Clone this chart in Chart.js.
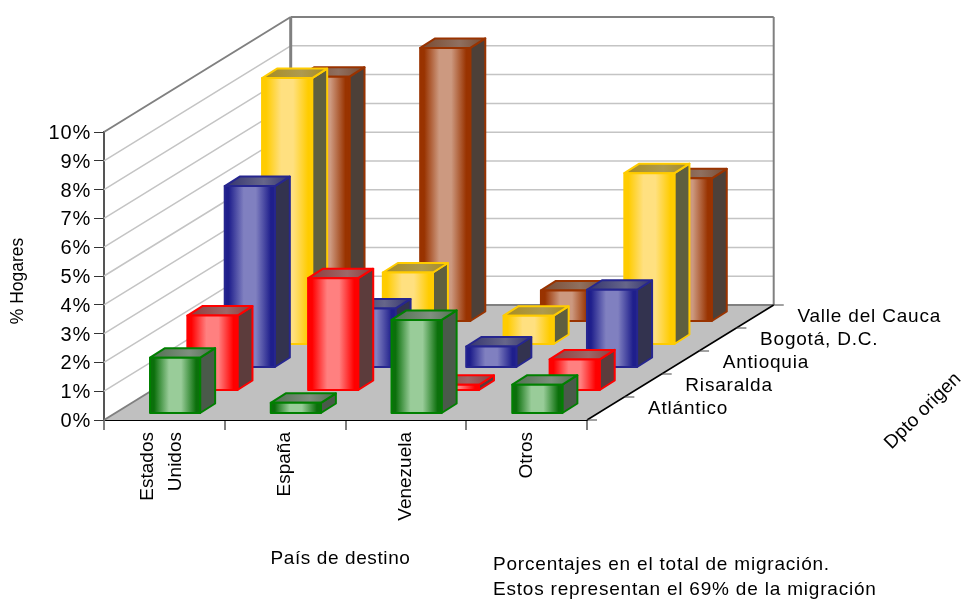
<!DOCTYPE html>
<html>
<head>
<meta charset="utf-8">
<script src="https://cdn.jsdelivr.net/npm/chart.js@4"></script>
<style>
body { margin: 0; background: #fff; }
#chartContainer { position: relative; width: 963px; height: 599px; }
</style>
</head>
<body>
<div id="chartContainer"><canvas id="chartCanvas"></canvas></div>
<script>
const paises = [["Estados", "Unidos"], "España", "Venezuela", "Otros"];
const tickLabels = ["0%", "1%", "2%", "3%", "4%", "5%", "6%", "7%", "8%", "9%", "10%"];
const departamentos = ["Atlántico", "Risaralda", "Antioquia", "Bogotá, D.C.", "Valle del Cauca"];
const atlantico = [1.94, 0.37, 3.25, 1.0];
const risaralda = [2.6, 3.9, 0.2, 1.08];
const antioquia = [6.3, 2.05, 0.73, 2.7];
const bogota = [9.25, 2.5, 1.0, 5.95];
const valle = [8.5, 9.5, 1.08, 4.97];
const notas = ["Porcentajes en el total de migración.", "Estos representan el 69% de la migración"];

// edge, centre, border, side, top-dark, top-light
const colores = [
    ["#0b700b", "#99cc99", "#008000", "#4a5a4a", "#4f6f4f", "#7f8f7f"],
    ["#ff0000", "#ff8080", "#ff0000", "#5c3c3c", "#8f3a3a", "#9c6868"],
    ["#1f1f8c", "#8080c0", "#26268f", "#33334f", "#33336f", "#66668a"],
    ["#ffcc00", "#ffe080", "#ffcc00", "#5f5f3f", "#a88c20", "#ad9a50"],
    ["#993300", "#cc9980", "#993300", "#4d4038", "#7a4a30", "#8f7060"]
];

// floor depth in px
const depthX = 186.7, depthY = -115;
const rowX = 37.35, rowY = -23;
const frontX = 10.7, frontY = -6.5;
const barDepthX = 15, barDepthY = -9.5;

function offsetFor(i) {
    return { x: frontX + rowX * i, y: frontY + rowY * i };
}

function frontGradient(c) {
    const col = colores[c.datasetIndex];
    if (c.dataIndex === undefined) return col[1];
    const x = c.chart.scales.x.getPixelForValue(c.dataIndex);
    if (!Number.isFinite(x)) return col[1]; // scale not laid out yet
    const g = c.chart.ctx.createLinearGradient(x - 25, 0, x + 25, 0);
    g.addColorStop(0.08, col[0]);
    g.addColorStop(0.38, col[1]);
    g.addColorStop(0.62, col[1]);
    g.addColorStop(0.92, col[0]);
    return g;
}

function line(ctx, x1, y1, x2, y2) {
    ctx.beginPath();
    ctx.moveTo(x1, y1);
    ctx.lineTo(x2, y2);
    ctx.stroke();
}

function poly(ctx, pts) {
    ctx.beginPath();
    ctx.moveTo(pts[0][0], pts[0][1]);
    for (let i = 1; i < pts.length; i++) ctx.lineTo(pts[i][0], pts[i][1]);
    ctx.closePath();
}

// nudges one of a scale's draw methods, and sets the letter spacing for it
function nudge(scale, method, dx, dy, spacing) {
    const orig = scale[method];
    scale[method] = function (...args) {
        const ctx = this.ctx;
        ctx.save();
        ctx.translate(dx, dy);
        ctx.letterSpacing = spacing;
        orig.apply(this, args);
        ctx.restore();
    };
}

const walls3d = {
    id: "walls3d",
    beforeDraw(chart) {
        if (chart.$nudged) return;
        chart.$nudged = true;
        const { x, y } = chart.scales;
        nudge(x, "drawTitle", -5, 1, "0.6px");
        nudge(y, "drawTitle", 3, 5, "0px");
        nudge(y, "drawLabels", 0, 1.5, "0.8px");
        // two-line label sits around the category centre
        const items = x.getLabelItems(chart.chartArea);
        items[0].options.translation[0] -= 17;
    },
    beforeDatasetsDraw(chart) {
        const ctx = chart.ctx, a = chart.chartArea, y = chart.scales.y;
        const y0 = y.getPixelForValue(0), y10 = y.getPixelForValue(10);
        const bx = a.left + depthX, rx = a.right + depthX;
        ctx.save();
        // floor
        ctx.fillStyle = "#c0c0c0";
        poly(ctx, [[a.left, y0], [bx, y0 + depthY], [rx, y0 + depthY], [a.right, y0]]);
        ctx.fill();
        // gridlines on both walls
        ctx.strokeStyle = "#c4c4c4";
        ctx.lineWidth = 1.5;
        for (let v = 1; v < 10; v++) {
            const p = y.getPixelForValue(v);
            line(ctx, a.left, p, bx, p + depthY);
            line(ctx, bx, p + depthY, rx, p + depthY);
        }
        // wall frame
        ctx.strokeStyle = "#808080";
        ctx.lineWidth = 2;
        line(ctx, a.left, y10, bx, y10 + depthY);
        line(ctx, bx, y10 + depthY, rx, y10 + depthY);
        line(ctx, rx, y10 + depthY, rx, y0 + depthY);
        line(ctx, a.left, y0, bx, y0 + depthY);
        line(ctx, bx, y0 + depthY, rx, y0 + depthY);
        ctx.lineWidth = 3;
        line(ctx, bx, y10 + depthY, bx, y0 + depthY);
        ctx.restore();
    },
    beforeDatasetDraw(chart, args) {
        const ctx = chart.ctx, i = args.index, off = offsetFor(i), col = colores[i];
        ctx.save();
        ctx.translate(off.x, off.y);
        ctx.lineWidth = 2;
        ctx.lineJoin = "round";
        ctx.strokeStyle = col[2];
        args.meta.data.forEach(b => {
            const l = b.x - b.width / 2, r = b.x + b.width / 2;
            ctx.fillStyle = col[3];
            poly(ctx, [[r, b.y], [r + barDepthX, b.y + barDepthY], [r + barDepthX, b.base + barDepthY], [r, b.base]]);
            ctx.fill();
            ctx.stroke();
            const g = ctx.createLinearGradient(l, 0, r + barDepthX, 0);
            g.addColorStop(0, col[4]);
            g.addColorStop(0.6, col[5]);
            g.addColorStop(1, col[4]);
            ctx.fillStyle = g;
            poly(ctx, [[l, b.y], [r, b.y], [r + barDepthX, b.y + barDepthY], [l + barDepthX, b.y + barDepthY]]);
            ctx.fill();
            ctx.stroke();
        });
    },
    afterDatasetDraw(chart, args) {
        const ctx = chart.ctx;
        // outline of the front face, the library's own border leaves seams at fractional pixels
        args.meta.data.forEach(b => {
            ctx.strokeRect(b.x - b.width / 2, b.y, b.width, b.base - b.y);
        });
        ctx.restore();
    },
    afterDraw(chart) {
        const ctx = chart.ctx, a = chart.chartArea, y0 = chart.scales.y.getPixelForValue(0);
        ctx.save();
        // depth axis with one tick per row
        ctx.strokeStyle = "#000";
        ctx.lineWidth = 1.5;
        line(ctx, a.right, y0, a.right + depthX, y0 + depthY);
        ctx.strokeStyle = "#444";
        ctx.lineWidth = 1;
        for (let i = 0; i <= departamentos.length; i++) {
            const tx = a.right + rowX * i, ty = y0 + rowY * i;
            line(ctx, tx, ty, tx + 10, ty);
        }
        ctx.fillStyle = "#000";
        ctx.font = "19px 'Liberation Sans'";
        ctx.letterSpacing = "0.8px";
        ctx.textBaseline = "middle";
        departamentos.forEach((d, i) => {
            ctx.fillText(d, 648 + rowX * i, 409 + rowY * i);
        });
        notas.forEach((n, i) => {
            ctx.fillText(n, 493, 565 + 25 * i);
        });
        ctx.letterSpacing = "0.1px";
        ctx.translate(923, 411);
        ctx.rotate(-Math.PI / 4);
        ctx.textAlign = "center";
        ctx.fillText("Dpto origen", 0, 0);
        ctx.restore();
    }
};

new Chart("chartCanvas", {
    type: "bar",
    plugins: [walls3d],
    data: {
        labels: paises,
        datasets: [atlantico, risaralda, antioquia, bogota, valle].map((serie, i) => ({
            label: departamentos[i],
            data: serie,
            backgroundColor: frontGradient,
            borderWidth: 0,
            clip: false
        }))
    },
    options: {
        responsive: true,
        maintainAspectRatio: false,
        animation: false,
        events: [],
        layout: { padding: { top: 132, right: 376, left: 0, bottom: 0 } },
        datasets: { bar: { grouped: false, categoryPercentage: 1, barPercentage: 0.415 } },
        plugins: {
            legend: { display: false },
            tooltip: { enabled: false }
        },
        scales: {
            x: {
                afterFit(s) { s.height = 179; },
                grid: { offset: true, drawOnChartArea: false, color: "#808080", tickLength: 10, lineWidth: 2 },
                border: { color: "#000", width: 2 },
                ticks: {
                    minRotation: 90, maxRotation: 90, autoSkip: false, padding: 2,
                    color: "#000", font: { family: "'Liberation Sans'", size: 19, lineHeight: 1.47 }
                },
                title: {
                    display: true, text: "País de destino", color: "#000",
                    font: { family: "'Liberation Sans'", size: 19 }, padding: { top: 0, bottom: 30 }
                }
            },
            y: {
                min: 0,
                max: 10,
                afterFit(s) { s.width = 104; },
                afterBuildTicks(s) { s.ticks = tickLabels.map((t, i) => ({ value: i })); },
                grid: { drawOnChartArea: false, color: "#333", tickLength: 10 },
                border: { color: "#555", width: 2 },
                ticks: {
                    padding: 3, color: "#000", font: { family: "'Liberation Sans'", size: 20 },
                    callback(v, i) { return tickLabels[i]; }
                },
                title: {
                    display: true, text: "% Hogares", color: "#000",
                    font: { family: "'Liberation Sans'", size: 17.5 }, padding: { top: 5, bottom: 0 }
                }
            }
        }
    }
});
</script>
</body>
</html>
